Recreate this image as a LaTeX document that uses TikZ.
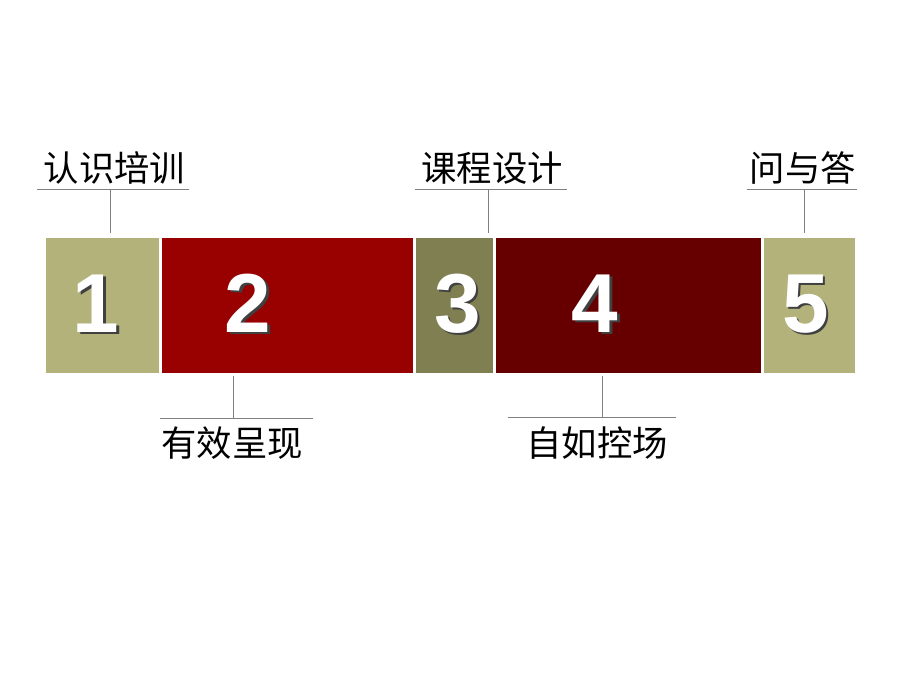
\documentclass[tikz,border=0pt]{standalone}
\usepackage{fontspec}
\newfontfamily\cjk{Noto Sans CJK SC}
\newfontfamily\digitfont{Liberation Sans}[BoldFont={Liberation Sans Bold}]
\definecolor{khaki}{RGB}{178,178,122}
\definecolor{olive}{RGB}{127,127,82}
\definecolor{redA}{RGB}{153,0,0}
\definecolor{redB}{RGB}{102,0,0}
\definecolor{linegray}{RGB}{128,128,128}
\begin{document}
\begin{tikzpicture}[x=1bp,y=-1bp,
  num/.style={inner sep=0pt,anchor=base,text=white,font=\digitfont\bfseries\fontsize{84}{84}\selectfont},
  numsh/.style={inner sep=0pt,anchor=base,text=black!75,font=\digitfont\bfseries\fontsize{84}{84}\selectfont},
  lbl/.style={inner sep=0pt,font=\cjk\fontsize{35.5}{35.5}\selectfont},
  ln/.style={draw=linegray,line width=1bp}]
\useasboundingbox[fill=white] (0,0) rectangle (920,690);
% boxes
\fill[khaki] (46,238) rectangle (159,373);
\fill[redA] (162,238) rectangle (413,373);
\fill[olive] (416,238) rectangle (493,373);
\fill[redB] (496,238) rectangle (761,373);
\fill[khaki] (764,238) rectangle (855,373);
% digits with shadow
\node[numsh] (s1) at (98.5,334.5) {1};
\node[num] (n1) at (96,332) {1};
\node[numsh] (s2) at (250.5,334.5) {2};
\node[num] (n2) at (248,332) {2};
\node[numsh] (s3) at (460,334.5) {3};
\node[num] (n3) at (457.5,332) {3};
\node[numsh] (s4) at (597.5,334.5) {4};
\node[num] (n4) at (595,332) {4};
\node[numsh] (s5) at (808,334.5) {5};
\node[num] (n5) at (805.5,332) {5};
% top labels
\node[lbl] (t1) at (114.5,168) {认识培训};
\node[lbl] (t3) at (492,168) {课程设计};
\node[lbl] (t5) at (803,168) {问与答};
\coordinate (u1a) at (37,189.5);  \coordinate (u1b) at (189,189.5);
\coordinate (u3a) at (415,189.5); \coordinate (u3b) at (567,189.5);
\coordinate (u5a) at (747,189.5); \coordinate (u5b) at (857,189.5);
\draw[ln] (u1a) -- (u1b);
\draw[ln] (u3a) -- (u3b);
\draw[ln] (u5a) -- (u5b);
\coordinate (v1a) at (110.5,189.5); \coordinate (v1b) at (110.5,233);
\coordinate (v3a) at (488.5,189.5); \coordinate (v3b) at (488.5,233);
\coordinate (v5a) at (804.5,189.5); \coordinate (v5b) at (804.5,233);
\draw[ln] (v1a) -- (v1b);
\draw[ln] (v3a) -- (v3b);
\draw[ln] (v5a) -- (v5b);
% bottom labels
\node[lbl] (b2) at (232,443) {有效呈现};
\node[lbl] (b4) at (597,443) {自如控场};
\coordinate (w2a) at (160,418.5); \coordinate (w2b) at (313,418.5);
\coordinate (w4a) at (508,417.5); \coordinate (w4b) at (676,417.5);
\draw[ln] (w2a) -- (w2b);
\draw[ln] (w4a) -- (w4b);
\coordinate (x2a) at (233.5,376); \coordinate (x2b) at (233.5,418.5);
\coordinate (x4a) at (602.5,376); \coordinate (x4b) at (602.5,417.5);
\draw[ln] (x2a) -- (x2b);
\draw[ln] (x4a) -- (x4b);
\end{tikzpicture}
\end{document}
